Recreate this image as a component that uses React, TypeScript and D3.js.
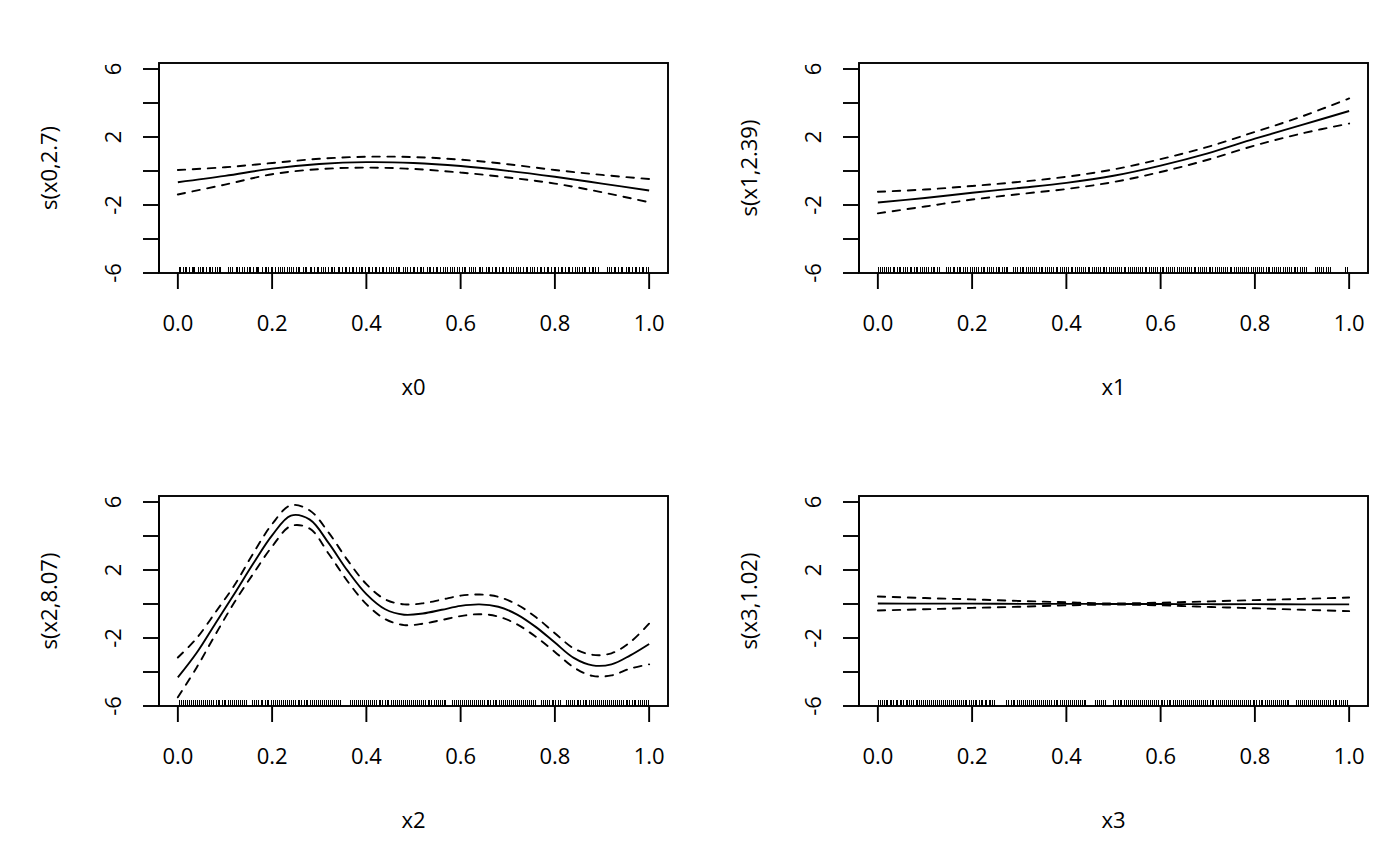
import React from "react";
import * as d3 from "d3";

// evaluation grids (x) and fitted smooth with +-2se bands
const grid0 = [0, 0.1, 0.2, 0.3, 0.4, 0.5, 0.6, 0.7, 0.8, 0.9, 1.0];
const fit0 = [-0.66, -0.29, 0.14, 0.41, 0.52, 0.47, 0.29, 0.01, -0.34, -0.74, -1.15];
const upper0 = [0.06, 0.22, 0.47, 0.72, 0.84, 0.82, 0.67, 0.4, 0.06, -0.23, -0.47];
const lower0 = [-1.38, -0.8, -0.19, 0.11, 0.2, 0.12, -0.09, -0.38, -0.74, -1.25, -1.84];

const grid1 = [0, 0.1, 0.2, 0.3, 0.4, 0.5, 0.6, 0.7, 0.8, 0.9, 1.0];
const fit1 = [-1.85, -1.59, -1.28, -1.0, -0.7, -0.28, 0.32, 1.04, 1.9, 2.71, 3.53];
const upper1 = [-1.22, -1.09, -0.88, -0.64, -0.34, 0.09, 0.7, 1.42, 2.3, 3.21, 4.27];
const lower1 = [-2.49, -2.09, -1.68, -1.36, -1.06, -0.65, -0.06, 0.66, 1.5, 2.21, 2.79];

const grid2 = [
  0, 0.04, 0.08, 0.12, 0.16, 0.2, 0.24, 0.28, 0.32, 0.36, 0.4, 0.44, 0.48,
  0.52, 0.56, 0.6, 0.64, 0.68, 0.72, 0.76, 0.8, 0.84, 0.88, 0.92, 0.96, 1.0,
];
const fit2 = [
  -4.32, -2.87, -1.13, 0.6, 2.38, 4.04, 5.2, 4.96, 3.58, 1.96, 0.58, -0.31,
  -0.63, -0.56, -0.34, -0.11, -0.02, -0.16, -0.62, -1.36, -2.27, -3.17, -3.61,
  -3.55, -3.02, -2.35,
];
const upper2 = [
  -3.15, -2.01, -0.48, 1.1, 2.98, 4.7, 5.81, 5.5, 4.2, 2.58, 1.17, 0.27, -0.02,
  0.04, 0.26, 0.49, 0.56, 0.42, -0.04, -0.78, -1.72, -2.61, -2.99, -2.9, -2.24,
  -1.15,
];
const lower2 = [
  -5.49, -3.73, -1.78, 0.1, 1.78, 3.38, 4.59, 4.43, 2.96, 1.34, -0.01, -0.89,
  -1.24, -1.16, -0.94, -0.71, -0.6, -0.74, -1.2, -1.94, -2.82, -3.73, -4.23,
  -4.2, -3.8, -3.55,
];

const grid3 = [0, 0.1, 0.2, 0.3, 0.4, 0.5, 0.6, 0.7, 0.8, 0.9, 1.0];
const fit3 = [0.03, 0.02, 0.02, 0.01, 0.01, 0.0, 0.0, -0.01, -0.01, -0.02, -0.02];
const upper3 = [0.44, 0.35, 0.27, 0.18, 0.1, 0.03, 0.08, 0.15, 0.23, 0.3, 0.38];
const lower3 = [-0.38, -0.31, -0.23, -0.16, -0.08, -0.03, -0.08, -0.17, -0.25, -0.34, -0.42];

// rug: covariate values along the bottom of each panel
const rug0 = [
  0.003, 0.005, 0.011, 0.016, 0.018, 0.024, 0.031, 0.033, 0.036, 0.044, 0.047, 0.052,
  0.054, 0.061, 0.067, 0.07, 0.073, 0.079, 0.084, 0.089, 0.091, 0.108, 0.111, 0.117,
  0.124, 0.126, 0.13, 0.138, 0.141, 0.147, 0.152, 0.154, 0.161, 0.166, 0.17, 0.172,
  0.179, 0.186, 0.188, 0.193, 0.199, 0.201, 0.207, 0.214, 0.218, 0.221, 0.227, 0.233,
  0.236, 0.242, 0.245, 0.251, 0.257, 0.259, 0.266, 0.27, 0.274, 0.281, 0.284, 0.29,
  0.296, 0.298, 0.305, 0.31, 0.313, 0.319, 0.326, 0.329, 0.333, 0.34, 0.343, 0.349,
  0.355, 0.357, 0.364, 0.37, 0.372, 0.378, 0.385, 0.389, 0.392, 0.399, 0.404, 0.407,
  0.414, 0.419, 0.422, 0.428, 0.435, 0.437, 0.443, 0.45, 0.453, 0.457, 0.464, 0.469,
  0.471, 0.478, 0.484, 0.487, 0.493, 0.499, 0.502, 0.508, 0.514, 0.517, 0.522, 0.529,
  0.533, 0.536, 0.543, 0.549, 0.551, 0.557, 0.564, 0.567, 0.572, 0.578, 0.582, 0.588,
  0.594, 0.597, 0.603, 0.609, 0.611, 0.618, 0.624, 0.627, 0.632, 0.639, 0.643, 0.647,
  0.654, 0.659, 0.661, 0.668, 0.674, 0.677, 0.683, 0.689, 0.691, 0.698, 0.704, 0.707,
  0.712, 0.719, 0.723, 0.727, 0.734, 0.739, 0.742, 0.748, 0.753, 0.757, 0.763, 0.769,
  0.771, 0.778, 0.784, 0.787, 0.793, 0.799, 0.801, 0.808, 0.814, 0.817, 0.823, 0.828,
  0.832, 0.837, 0.844, 0.848, 0.852, 0.858, 0.863, 0.866, 0.873, 0.879, 0.881, 0.887,
  0.892, 0.912, 0.916, 0.921, 0.927, 0.929, 0.936, 0.942, 0.944, 0.951, 0.956, 0.959,
  0.965, 0.971, 0.974, 0.98, 0.986, 0.989, 0.995, 0.998,
];
const rug1 = [
  0.002, 0.006, 0.009, 0.015, 0.019, 0.022, 0.027, 0.033, 0.035, 0.041, 0.046, 0.049,
  0.055, 0.058, 0.063, 0.069, 0.071, 0.077, 0.082, 0.084, 0.09, 0.095, 0.099, 0.104,
  0.108, 0.113, 0.118, 0.121, 0.126, 0.131, 0.146, 0.149, 0.155, 0.16, 0.163, 0.168,
  0.173, 0.176, 0.182, 0.187, 0.19, 0.196, 0.2, 0.205, 0.21, 0.213, 0.219, 0.224,
  0.227, 0.232, 0.237, 0.241, 0.246, 0.251, 0.255, 0.259, 0.265, 0.268, 0.273, 0.276,
  0.288, 0.293, 0.296, 0.302, 0.306, 0.31, 0.315, 0.32, 0.323, 0.329, 0.333, 0.337,
  0.342, 0.347, 0.35, 0.356, 0.36, 0.365, 0.369, 0.373, 0.379, 0.382, 0.387, 0.392,
  0.396, 0.401, 0.405, 0.41, 0.414, 0.419, 0.423, 0.427, 0.433, 0.436, 0.441, 0.446,
  0.45, 0.455, 0.459, 0.464, 0.468, 0.472, 0.478, 0.481, 0.486, 0.491, 0.495, 0.5,
  0.504, 0.509, 0.513, 0.517, 0.523, 0.526, 0.531, 0.536, 0.54, 0.545, 0.549, 0.554,
  0.558, 0.562, 0.568, 0.571, 0.576, 0.581, 0.585, 0.59, 0.594, 0.599, 0.603, 0.607,
  0.613, 0.616, 0.621, 0.626, 0.63, 0.635, 0.639, 0.644, 0.648, 0.652, 0.658, 0.661,
  0.666, 0.671, 0.675, 0.68, 0.684, 0.689, 0.693, 0.697, 0.703, 0.706, 0.711, 0.716,
  0.72, 0.725, 0.729, 0.734, 0.738, 0.742, 0.748, 0.751, 0.756, 0.761, 0.765, 0.77,
  0.774, 0.779, 0.783, 0.787, 0.793, 0.796, 0.801, 0.806, 0.81, 0.815, 0.819, 0.824,
  0.828, 0.832, 0.838, 0.841, 0.846, 0.851, 0.855, 0.86, 0.864, 0.869, 0.873, 0.877,
  0.883, 0.886, 0.891, 0.896, 0.9, 0.905, 0.909, 0.928, 0.932, 0.937, 0.942, 0.945,
  0.951, 0.956, 0.96, 0.992, 0.997,
];
const rug2 = [
  0.003, 0.008, 0.011, 0.016, 0.02, 0.025, 0.028, 0.033, 0.038, 0.041, 0.046, 0.05,
  0.055, 0.059, 0.063, 0.068, 0.072, 0.076, 0.081, 0.086, 0.089, 0.094, 0.099, 0.102,
  0.107, 0.112, 0.115, 0.12, 0.125, 0.128, 0.133, 0.138, 0.142, 0.146, 0.159, 0.163,
  0.167, 0.172, 0.177, 0.18, 0.185, 0.19, 0.193, 0.198, 0.203, 0.207, 0.211, 0.216,
  0.22, 0.224, 0.229, 0.233, 0.237, 0.242, 0.246, 0.25, 0.255, 0.259, 0.263, 0.268,
  0.272, 0.276, 0.281, 0.285, 0.289, 0.294, 0.298, 0.302, 0.307, 0.311, 0.315, 0.32,
  0.324, 0.328, 0.333, 0.337, 0.341, 0.346, 0.366, 0.37, 0.375, 0.379, 0.383, 0.388,
  0.392, 0.396, 0.401, 0.405, 0.409, 0.414, 0.418, 0.422, 0.427, 0.431, 0.435, 0.44,
  0.444, 0.448, 0.453, 0.457, 0.461, 0.466, 0.47, 0.474, 0.479, 0.483, 0.487, 0.492,
  0.496, 0.5, 0.505, 0.509, 0.513, 0.518, 0.522, 0.526, 0.531, 0.535, 0.539, 0.544,
  0.548, 0.552, 0.557, 0.561, 0.565, 0.568, 0.582, 0.586, 0.591, 0.595, 0.599, 0.604,
  0.608, 0.612, 0.617, 0.621, 0.625, 0.63, 0.634, 0.638, 0.643, 0.647, 0.651, 0.656,
  0.66, 0.664, 0.669, 0.673, 0.677, 0.682, 0.686, 0.69, 0.695, 0.699, 0.703, 0.708,
  0.712, 0.716, 0.721, 0.725, 0.729, 0.734, 0.738, 0.742, 0.747, 0.751, 0.755, 0.758,
  0.772, 0.776, 0.781, 0.785, 0.789, 0.794, 0.798, 0.802, 0.807, 0.811, 0.825, 0.829,
  0.834, 0.838, 0.842, 0.847, 0.851, 0.855, 0.86, 0.864, 0.868, 0.873, 0.877, 0.881,
  0.886, 0.89, 0.894, 0.899, 0.903, 0.907, 0.912, 0.916, 0.92, 0.925, 0.929, 0.933,
  0.938, 0.942, 0.946, 0.951, 0.955, 0.959, 0.964, 0.968, 0.972, 0.977, 0.981, 0.985,
  0.99, 0.994, 0.998,
];
const rug3 = [
  0.002, 0.005, 0.009, 0.014, 0.018, 0.021, 0.026, 0.03, 0.034, 0.039, 0.042, 0.047,
  0.051, 0.055, 0.06, 0.063, 0.068, 0.072, 0.076, 0.081, 0.084, 0.089, 0.093, 0.097,
  0.102, 0.105, 0.11, 0.114, 0.118, 0.123, 0.126, 0.131, 0.135, 0.139, 0.144, 0.147,
  0.152, 0.156, 0.16, 0.165, 0.168, 0.173, 0.177, 0.181, 0.186, 0.189, 0.194, 0.198,
  0.202, 0.207, 0.21, 0.215, 0.219, 0.223, 0.228, 0.231, 0.236, 0.24, 0.244, 0.247,
  0.274, 0.278, 0.283, 0.287, 0.291, 0.296, 0.3, 0.304, 0.309, 0.313, 0.317, 0.322,
  0.326, 0.33, 0.335, 0.339, 0.343, 0.348, 0.352, 0.356, 0.361, 0.365, 0.369, 0.374,
  0.378, 0.382, 0.387, 0.391, 0.395, 0.4, 0.404, 0.408, 0.413, 0.417, 0.421, 0.426,
  0.43, 0.434, 0.439, 0.441, 0.461, 0.465, 0.47, 0.474, 0.478, 0.483, 0.501, 0.505,
  0.51, 0.514, 0.518, 0.523, 0.527, 0.531, 0.536, 0.54, 0.544, 0.549, 0.553, 0.557,
  0.562, 0.566, 0.57, 0.575, 0.579, 0.583, 0.588, 0.592, 0.596, 0.601, 0.605, 0.609,
  0.614, 0.618, 0.622, 0.627, 0.631, 0.635, 0.64, 0.644, 0.648, 0.653, 0.657, 0.661,
  0.666, 0.67, 0.674, 0.679, 0.683, 0.687, 0.692, 0.696, 0.7, 0.705, 0.709, 0.713,
  0.718, 0.722, 0.726, 0.731, 0.735, 0.739, 0.744, 0.748, 0.752, 0.757, 0.761, 0.765,
  0.77, 0.774, 0.778, 0.783, 0.787, 0.791, 0.796, 0.8, 0.804, 0.809, 0.813, 0.817,
  0.822, 0.826, 0.83, 0.835, 0.839, 0.843, 0.848, 0.852, 0.856, 0.861, 0.865, 0.869,
  0.872, 0.888, 0.892, 0.896, 0.901, 0.905, 0.909, 0.914, 0.918, 0.922, 0.927, 0.931,
  0.935, 0.94, 0.944, 0.948, 0.953, 0.957, 0.961, 0.966, 0.97, 0.974, 0.979, 0.983,
  0.987, 0.992, 0.996,
];

const xTicks = [0, 0.2, 0.4, 0.6, 0.8, 1.0];
const yTicks = [-6, -4, -2, 0, 2, 4, 6];
const yLabelled = [-6, -2, 2, 6];
const xTitles = ["x0", "x1", "x2", "x3"];
const yTitles = ["s(x0,2.7)", "s(x1,2.39)", "s(x2,8.07)", "s(x3,1.02)"];

const FONT = "'Open Sans', 'Noto Sans', sans-serif";
const FS = 22;
const LINE = 32; // one margin line in px
const LW = 1.9;

interface PanelProps {
  left: number;
  top: number;
  grid: number[];
  fit: number[];
  upper: number[];
  lower: number[];
  rug: number[];
  xTitle: string;
  yTitle: string;
}

const box = { width: 509, height: 210 };

const Panel = ({ left, top, grid, fit, upper, lower, rug, xTitle, yTitle }: PanelProps) => {
  // define scales (R style: 4% padding on x)
  const x = d3.scaleLinear().domain([-0.04, 1.04]).range([left, left + box.width]);
  const y = d3.scaleLinear().domain([-6, 6.353]).range([top + box.height, top]);

  const line = d3
    .line<number>()
    .x((_, i) => x(grid[i]))
    .y((d) => y(d))
    .curve(d3.curveCatmullRom.alpha(0.5));

  const bottom = top + box.height;
  const rugLen = box.height * 0.03;

  return (
    <g>
      {/* curves */}
      <path d={line(fit) ?? ""} fill="none" stroke="#000" strokeWidth={LW} />
      {[upper, lower].map((s, i) => (
        <path
          key={i}
          d={line(s) ?? ""}
          fill="none"
          stroke="#000"
          strokeWidth={LW}
          strokeDasharray="7.5 7.5"
          strokeLinecap="round"
        />
      ))}

      {/* rug */}
      <g shapeRendering="crispEdges">
        {rug.map((r, i) => (
          <line
            key={i}
            x1={x(r)}
            x2={x(r)}
            y1={bottom}
            y2={bottom - rugLen}
            stroke="#000"
            strokeWidth={1}
          />
        ))}
      </g>

      {/* box */}
      <rect
        x={left}
        y={top}
        width={box.width}
        height={box.height}
        fill="none"
        stroke="#000"
        strokeWidth={LW}
      />

      {/* x axis */}
      {xTicks.map((t) => (
        <g key={t}>
          <line x1={x(t)} x2={x(t)} y1={bottom} y2={bottom + LINE / 2} stroke="#000" strokeWidth={LW} />
          <text x={x(t)} y={bottom + 1.8 * LINE} textAnchor="middle">
            {t.toFixed(1)}
          </text>
        </g>
      ))}

      {/* y axis */}
      <line x1={left} x2={left} y1={y(-6)} y2={y(6)} stroke="#000" strokeWidth={LW} />
      {yTicks.map((t) => (
        <g key={t}>
          <line x1={left - LINE / 2} x2={left} y1={y(t)} y2={y(t)} stroke="#000" strokeWidth={LW} />
          {yLabelled.includes(t) && (
            <text
              transform={`translate(${left - 1.2 * LINE}, ${y(t)}) rotate(-90)`}
              textAnchor="middle"
            >
              {t}
            </text>
          )}
        </g>
      ))}

      {/* titles */}
      <text x={left + box.width / 2} y={bottom + 3.8 * LINE} textAnchor="middle">
        {xTitle}
      </text>
      <text
        transform={`translate(${left - 3.2 * LINE}, ${top + box.height / 2}) rotate(-90)`}
        textAnchor="middle"
      >
        {yTitle}
      </text>
    </g>
  );
};

const panels = [
  { left: 159, top: 63, grid: grid0, fit: fit0, upper: upper0, lower: lower0, rug: rug0 },
  { left: 859, top: 63, grid: grid1, fit: fit1, upper: upper1, lower: lower1, rug: rug1 },
  { left: 159, top: 496, grid: grid2, fit: fit2, upper: upper2, lower: lower2, rug: rug2 },
  { left: 859, top: 496, grid: grid3, fit: fit3, upper: upper3, lower: lower3, rug: rug3 },
];

const App = () => {
  return (
    <div style={{ position: "absolute", left: 0, top: 0 }}>
      <svg
        width={1400}
        height={866}
        style={{ display: "block", background: "#fff" }}
        fontFamily={FONT}
        fontSize={FS}
        fill="#000"
      >
        {panels.map((p, i) => (
          <Panel key={i} {...p} xTitle={xTitles[i]} yTitle={yTitles[i]} />
        ))}
      </svg>
    </div>
  );
};

export default App;
